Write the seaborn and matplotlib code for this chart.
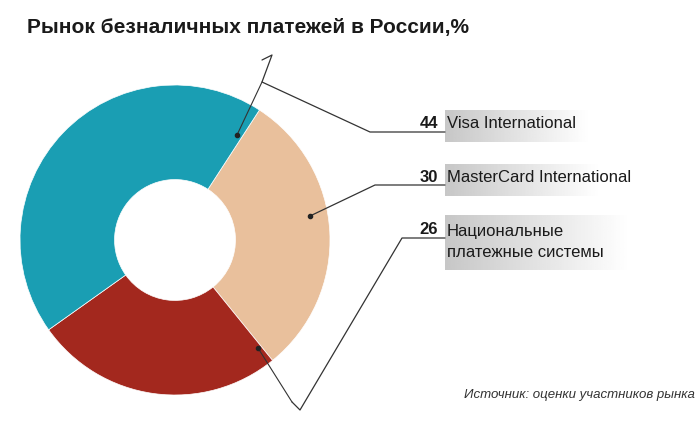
import matplotlib
matplotlib.use("Agg")
import matplotlib.pyplot as plt
import seaborn as sns
import numpy as np

labels = ["MasterCard International", "Национальные\nплатежные системы", "Visa International"]
values = [30, 26, 44]
colors = ["#e9c09c", "#a3281e", "#1a9eb3"]

sns.set_theme(style="white")
plt.rcParams["font.family"] = "Liberation Sans"
fig = plt.figure(figsize=(7, 4.46), dpi=100)
W, H = 700, 446

ax = fig.add_axes([20/W, (H-395)/H, 310/W, 310/H])
ax.pie(values, colors=colors, startangle=57, counterclock=False, radius=1.0,
       wedgeprops=dict(width=0.61, edgecolor="white", linewidth=0.5))
ax.set_xlim(-1, 1); ax.set_ylim(-1, 1)
ax.set_aspect("equal")
ax.axis("off")

ov = fig.add_axes([0, 0, 1, 1], facecolor="none")
ov.set_xlim(0, W); ov.set_ylim(H, 0); ov.axis("off")

grad = np.linspace(0.78, 1.0, 100)[None, :]
for (x0, y0, x1, y1) in [(445, 110, 590, 142), (445, 164, 600, 196), (445, 215, 630, 270)]:
    ov.imshow(grad, cmap="gray", vmin=0, vmax=1, extent=(x0, x1, y1, y0), aspect="auto", zorder=1)

lc = "#333333"
ov.plot([262, 272, 262, 370, 445], [60, 55, 82, 132, 132], color=lc, lw=0.9, zorder=2)
ov.plot([237, 262], [135, 82], color=lc, lw=0.8, zorder=3)
ov.plot([310, 375, 445], [216, 185, 185], color=lc, lw=0.9, zorder=2)
ov.plot([292, 300, 402, 445], [402, 410, 238, 238], color=lc, lw=0.9, zorder=2)
ov.plot([258, 292], [348, 402], color=lc, lw=0.8, zorder=3)
for (x, y) in [(237, 135), (310, 216), (258, 348)]:
    ov.plot(x, y, "o", color="#222222", ms=3, zorder=4)

ov.text(27, 28, "Рынок безналичных платежей в России,%", fontsize=15, fontweight="bold",
        color="#1a1a1a", va="center", ha="left")
nums = [("44", 123, labels[2]), ("30", 178, labels[0]), ("26", 229, labels[1])]
for n, y, t in nums:
    ov.text(438, y, n, fontsize=12, fontweight="bold", ha="right", va="center", color="#1a1a1a", zorder=5)
    ov.text(447, y if "\n" not in t else y + 13, t, fontsize=12, ha="left", va="center",
            color="#1a1a1a", linespacing=1.5, zorder=5)
ov.text(695, 395, "Источник: оценки участников рынка", fontsize=9.5, style="italic",
        ha="right", va="center", color="#333333")

fig.savefig("out.png", dpi=100)
